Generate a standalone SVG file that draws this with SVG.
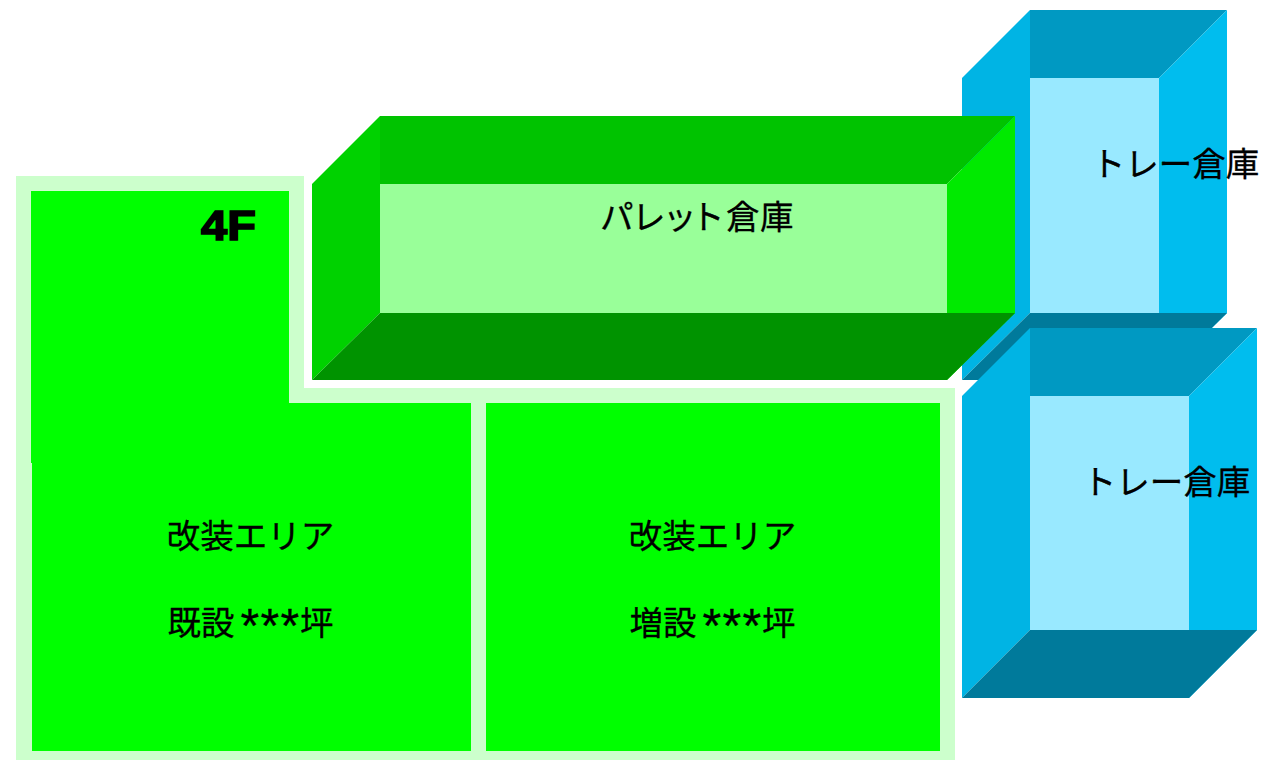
<svg xmlns="http://www.w3.org/2000/svg" width="1265" height="760" viewBox="0 0 1265 760">
<style>
text{font-family:"Liberation Sans","Noto Sans CJK JP",sans-serif;font-size:33.5px;fill:#000;stroke:#000;stroke-width:.3px}
.ast{font-size:48px}
.lg{fill:#00ff00}
.gl{fill:#00d200}.gt{fill:#00c300}.gr{fill:#00ea00}.gb{fill:#009300}.gi{fill:#99ff99}
.cl{fill:#00b4e4}.ct{fill:#0099c2}.cr{fill:#00bdee}.cb{fill:#007a9b}.ci{fill:#99e9ff}
</style>
<rect width="1265" height="760" fill="#fff"/>
<g id="floor-4f">
<polygon points="16,176 304,176 304,388 955,388 955,760 16,760" fill="#ccffcc"/>
<polygon class="lg" points="31,191 289,191 289,403 471,403 471,751 32,751 32,463 31,463"/>
<text transform="translate(201 240) scale(1.12 1)" style="font-size:42px;font-weight:bold;stroke-width:1.6px">4F</text>
<text x="250.500" y="548" text-anchor="middle">改装エリア</text>
<text x="167.500" y="635">既設<tspan class="ast" x="240.500 260.500 280.500" y="642">***</tspan><tspan x="300" y="635">坪</tspan></text>
</g>
<g id="floor-extension">
<rect class="lg" x="486" y="403" width="454" height="348"/>
<text x="712.500" y="548" text-anchor="middle">改装エリア</text>
<text x="629.500" y="635">増設<tspan class="ast" x="702.500 722.500 742.500" y="642">***</tspan><tspan x="762" y="635">坪</tspan></text>
</g>
<g id="tray-upper">
<polygon class="cl" points="962,78 1030,10 1030,313 962,380"/>
<polygon class="ct" points="1030,10 1227,10 1159,78 1030,78"/>
<polygon class="cr" points="1159,78 1227,10 1227,313 1159,380"/>
<polygon class="cb" points="1030,313 1227,313 1159,380 962,380"/>
<rect class="ci" x="1030" y="78" width="129" height="235"/>
</g>
<g id="tray-lower">
<polygon class="cl" points="962,396 1030,328 1030,630 962,698"/>
<polygon class="ct" points="1030,328 1257,328 1189,396 1030,396"/>
<polygon class="cr" points="1189,396 1257,328 1257,630 1189,698"/>
<polygon class="cb" points="1030,630 1257,630 1189,698 962,698"/>
<rect class="ci" x="1030" y="396" width="159" height="234"/>
<text x="1175.500" y="176" text-anchor="middle">トレー倉庫</text>
<text x="1166.500" y="494" text-anchor="middle">トレー倉庫</text>
</g>
<g id="pallet">
<polygon class="gl" points="312,184 380,116 380,313 312,380"/>
<polygon class="gt" points="380,116 1015,116 947,184 380,184"/>
<polygon class="gr" points="947,184 1015,116 1015,313 947,380"/>
<polygon class="gb" points="380,313 1015,313 947,380 312,380"/>
<rect class="gi" x="380" y="184" width="567" height="129"/>
<text x="600 632 663 691 726 760" y="229">パレット倉庫</text>
</g>
<g id="connectors"/>
</svg>
